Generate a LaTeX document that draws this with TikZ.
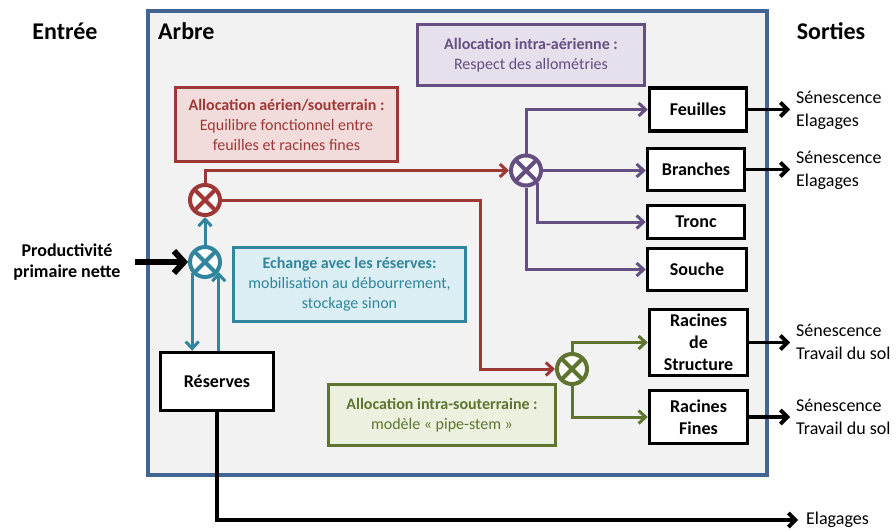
\documentclass[tikz,border=0pt]{standalone}
\usepackage{fontspec}
\setmainfont{Carlito}
\usetikzlibrary{arrows.meta}
\definecolor{mainblue}{RGB}{65,100,148}
\definecolor{bgray}{RGB}{242,242,242}
\definecolor{cred}{RGB}{158,56,54}
\definecolor{fred}{RGB}{242,220,219}
\definecolor{cpur}{RGB}{100,78,130}
\definecolor{fpur}{RGB}{229,224,236}
\definecolor{cteal}{RGB}{49,133,156}
\definecolor{fteal}{RGB}{219,238,244}
\definecolor{cgreen}{RGB}{94,116,48}
\definecolor{fgreen}{RGB}{235,241,222}
\begin{document}
\begin{tikzpicture}[x=1pt,y=-1pt,
  tip/.style={-{Straight Barb[length=7pt,width=13pt]}},
  btip/.style={-{Straight Barb[length=7pt,width=14pt]}},
  xc/.style={circle, draw=#1, fill=white, line width=4pt, minimum size=30pt, inner sep=0pt,
    path picture={\draw[#1,line width=4pt] (path picture bounding box.north west) -- (path picture bounding box.south east) (path picture bounding box.north east) -- (path picture bounding box.south west);}},
  cbox/.style 2 args={draw=#1, fill=#2, text=#1, line width=3.5pt, align=center, inner sep=0pt,
    font=\fontsize{16}{20}\selectfont},
  bbox/.style={draw=black, fill=white, line width=3.5pt, align=center, inner sep=0pt,
    font=\bfseries\fontsize{18}{22}\selectfont},
  title/.style={font=\bfseries\fontsize{24}{28}\selectfont, inner sep=0pt},
  outtxt/.style={font=\fontsize{18}{23}\selectfont, align=left, anchor=west, inner sep=0pt},
  cline/.style={draw=#1, line width=3pt},
  oline/.style={draw=black, line width=3.8pt, btip, shorten >=6pt}
]
\useasboundingbox (0,0) rectangle (896,532);
% main container
\draw[mainblue, fill=bgray, line width=3.2pt] (148,11) rectangle (767,475);
% titles
\node[title] (entree) at (65,31) {Entrée};
\node[title, anchor=west] (arbre) at (158,31) {Arbre};
\node[title] (sorties) at (831,31) {Sorties};
% coloured boxes
\node[cbox={cpur}{fpur}, minimum width=227pt, minimum height=61pt] (pbox) at (531,55)
  {\textbf{Allocation intra-aérienne :}\\Respect des allométries};
\node[cbox={cred}{fred}, minimum width=222pt, minimum height=74pt] (rbox) at (286.5,124.5)
  {\textbf{Allocation aérien/souterrain :}\\Equilibre fonctionnel entre\\feuilles et racines fines};
\node[cbox={cteal}{fteal}, minimum width=232pt, minimum height=74pt] (tbox) at (349.5,284.5)
  {\textbf{Echange avec les réserves:}\\mobilisation au débourrement,\\stockage sinon};
\node[cbox={cgreen}{fgreen}, minimum width=227pt, minimum height=61pt] (gbox) at (442,415)
  {\textbf{Allocation intra-souterraine :}\\modèle « pipe-stem »};
% compartments
\node[bbox, minimum width=97pt, minimum height=43pt] (feu) at (698,109.5) {Feuilles};
\node[bbox, minimum width=97pt, minimum height=42pt] (bra) at (696,169.5) {Branches};
\node[bbox, minimum width=97pt, minimum height=33pt] (tro) at (696,222) {Tronc};
\node[bbox, minimum width=99pt, minimum height=42pt] (sou) at (697,269.5) {Souche};
\node[bbox, minimum width=98pt, minimum height=66pt] (rs) at (698.5,342.5) {Racines\\de\\Structure};
\node[bbox, minimum width=98pt, minimum height=53pt] (rf) at (698.5,417) {Racines\\Fines};
\node[bbox, minimum width=113pt, minimum height=58pt] (res) at (217,381.5) {Réserves};
% junctions
\node[xc=cred] (rc) at (205,200) {};
\node[xc=cteal] (tc) at (205,262) {};
\node[xc=cpur] (pc) at (526,170.5) {};
\node[xc=cgreen] (gc) at (572,369) {};
% input
\node[font=\bfseries\fontsize{18}{21}\selectfont, align=center, inner sep=0pt] (ppn) at (67,262)
  {Productivité\\primaire nette};
\coordinate (ppnstart) at (135,262);
\draw[line width=6pt, -{Straight Barb[length=10pt,width=22pt]}] (ppnstart) -- (tc.west);
% outputs text
\node[outtxt] (s1) at (796,110.5) {Sénescence\\Elagages};
\node[outtxt] (s2) at (796,170) {Sénescence\\Elagages};
\node[outtxt] (s3) at (796,341.5) {Sénescence\\Travail du sol};
\node[outtxt] (s4) at (796,417) {Sénescence\\Travail du sol};
\node[outtxt] (el) at (806,520) {Elagages};
% teal connectors
\draw[cline=cteal, tip] (tc.north) -- (rc.south);
\draw[cline=cteal, tip] (tc.221) -- (tc.221 |- res.north);
\draw[cline=cteal, tip] (tc.-36 |- res.north) -- (tc.-36);
% red connectors
\coordinate (rturn) at (480,200);
\draw[cline=cred, tip] (rc.north) |- (pc.west);
\draw[cline=cred, tip] (rc.east) -- (rturn) |- (gc.west);
% purple connectors
\draw[cline=cpur, tip] (pc.north) |- (feu.west);
\draw[cline=cpur, tip] (pc.east) -- (pc.east -| bra.west);
\draw[cline=cpur, tip] (pc.-47) |- (tro.west);
\draw[cline=cpur, tip] (pc.south) |- (sou.west);
% green connectors
\draw[cline=cgreen, tip] (gc.north) |- (rs.west);
\draw[cline=cgreen, tip] (gc.south) |- (rf.west);
% black outputs
\draw[oline] (feu.east) -- (feu.east -| s1.west);
\draw[oline] (bra.east) -- (bra.east -| s2.west);
\draw[oline] (rs.east) -- (rs.east -| s3.west);
\draw[oline] (rf.east) -- (rf.east -| s4.west);
\draw[oline, shorten >=8pt] (res.south) |- (el.west);
\end{tikzpicture}
\end{document}
